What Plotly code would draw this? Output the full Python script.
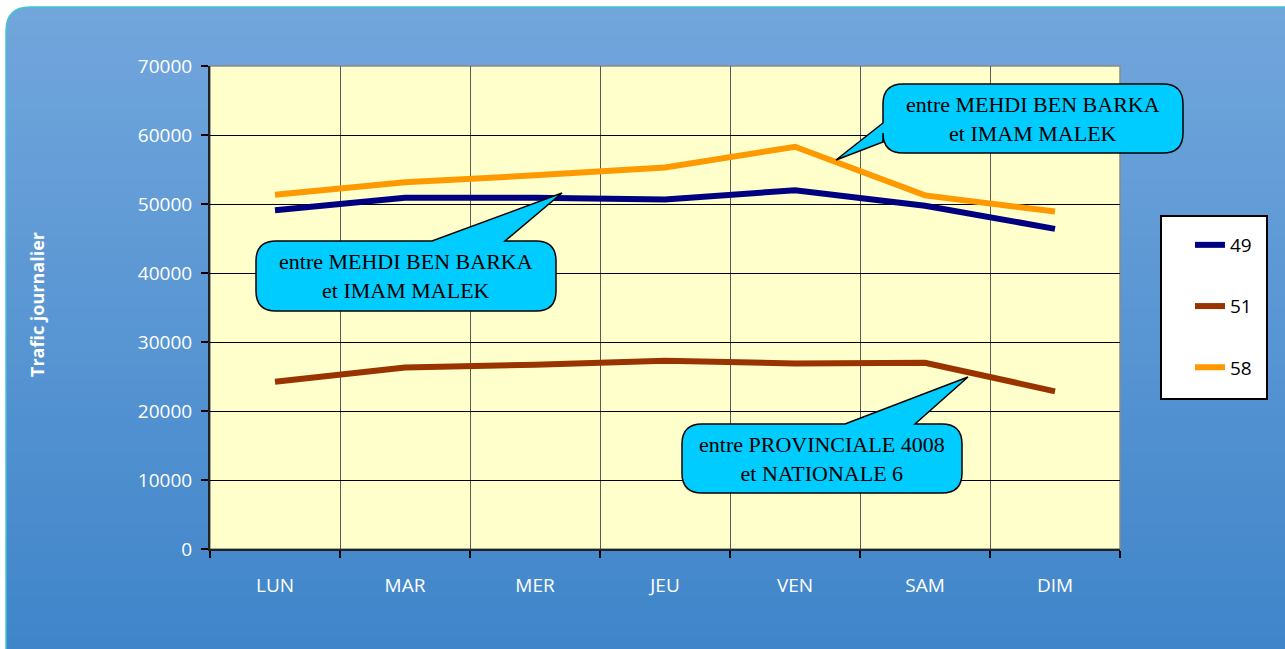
import plotly.graph_objects as go

# ---------------- data ----------------
days = ["LUN", "MAR", "MER", "JEU", "VEN", "SAM", "DIM"]
s49 = [49100, 50900, 50900, 50650, 52000, 49750, 46400]
s51 = [24250, 26300, 26700, 27300, 26900, 27000, 22850]
s58 = [51350, 53150, 54150, 55300, 58300, 51250, 48900]
series_names = ["49", "51", "58"]
series_colors = ["#000080", "#993300", "#FF9900"]
y_title = "Trafic journalier"
callout_texts = [
    "entre MEHDI BEN BARKA<br>et IMAM MALEK",
    "entre MEHDI BEN BARKA<br>et IMAM MALEK",
    "entre PROVINCIALE 4008<br>et NATIONALE 6",
]

# ---------------- geometry helpers ----------------
W, H = 1285, 649
L, R, T, B = 210, 1120, 66, 549


def PX(x):
    return (x - L) / (R - L)


def PY(y):
    return (B - y) / (B - T)


def pt(x, y):
    return f"{PX(x):.5f},{PY(y):.5f}"


def callout_path(x0, y0, x1, y1, r, side, b0, b1, tip):
    tx, ty = tip
    p = []
    if side == "top":
        p.append(f"M{pt(x0 + r, y0)}")
        p.append(f"L{pt(b0, y0)}")
        p.append(f"L{pt(tx, ty)}")
        p.append(f"L{pt(b1, y0)}")
        p.append(f"L{pt(x1 - r, y0)}")
    else:
        p.append(f"M{pt(x0 + r, y0)}")
        p.append(f"L{pt(x1 - r, y0)}")
    p.append(f"Q{pt(x1, y0)} {pt(x1, y0 + r)}")
    p.append(f"L{pt(x1, y1 - r)}")
    p.append(f"Q{pt(x1, y1)} {pt(x1 - r, y1)}")
    p.append(f"L{pt(x0 + r, y1)}")
    p.append(f"Q{pt(x0, y1)} {pt(x0, y1 - r)}")
    if side == "left":
        p.append(f"L{pt(x0, b1)}")
        p.append(f"L{pt(tx, ty)}")
        p.append(f"L{pt(x0, b0)}")
    p.append(f"L{pt(x0, y0 + r)}")
    p.append(f"Q{pt(x0, y0)} {pt(x0 + r, y0)}")
    p.append("Z")
    return " ".join(p)


shapes = []

# background card with vertical gradient
top_c = (113, 166, 220)
bot_c = (64, 133, 202)
cy0, cy1, cx0, cx1 = 7, 652, 6, 1290
n = 45
for i in range(n):
    ya = cy0 + (cy1 - cy0) * i / n
    yb = cy0 + (cy1 - cy0) * (i + 1) / n + 0.6
    t = i / (n - 1)
    c = tuple(round(top_c[k] + (bot_c[k] - top_c[k]) * t) for k in range(3))
    shapes.append(dict(type="rect", xref="paper", yref="paper", layer="below",
                       x0=PX(cx0), x1=PX(cx1), y0=PY(yb), y1=PY(ya),
                       fillcolor=f"rgb{c}", line=dict(width=0)))
rc = 24
# white mask for rounded corner
shapes.append(dict(type="path", xref="paper", yref="paper", layer="below",
                   path=f"M{pt(cx0 - 1, cy0 - 1)} L{pt(cx0 + rc, cy0 - 1)} L{pt(cx0 + rc, cy0)} "
                        f"Q{pt(cx0, cy0)} {pt(cx0, cy0 + rc)} L{pt(cx0 - 1, cy0 + rc)} Z",
                   fillcolor="white", line=dict(width=0)))
# teal border
shapes.append(dict(type="path", xref="paper", yref="paper", layer="below",
                   path=f"M{pt(cx0, 652)} L{pt(cx0, cy0 + rc)} Q{pt(cx0, cy0)} {pt(cx0 + rc, cy0)} L{pt(1290, cy0)}",
                   line=dict(color="#3FC6D0", width=1.5)))
# plot area background
shapes.append(dict(type="rect", xref="paper", yref="paper", layer="below",
                   x0=0, x1=1, y0=0, y1=1, fillcolor="#FFFFCC",
                   line=dict(color="#8A8A8A", width=1.5)))
# legend box
shapes.append(dict(type="rect", xref="paper", yref="paper", layer="below",
                   x0=PX(1161), x1=PX(1267), y0=PY(399), y1=PY(216),
                   fillcolor="white", line=dict(color="black", width=2)))

# callouts
callouts = [
    dict(box=(256, 241, 556, 311), side="top", b=(432, 505), tip=(562, 193), text=callout_texts[0]),
    dict(box=(883, 84, 1183, 153), side="left", b=(123, 142), tip=(836, 160), text=callout_texts[1]),
    dict(box=(682, 424, 962, 493), side="top", b=(845, 915), tip=(968, 377), text=callout_texts[2]),
]
annotations = []
for c in callouts:
    x0, y0, x1, y1 = c["box"]
    shapes.append(dict(type="path", xref="paper", yref="paper", layer="above",
                       path=callout_path(x0, y0, x1, y1, 20, c["side"], c["b"][0], c["b"][1], c["tip"]),
                       fillcolor="#00CCFF", line=dict(color="black", width=1.5)))
    annotations.append(dict(xref="paper", yref="paper", x=PX((x0 + x1) / 2), y=PY((y0 + y1) / 2),
                            text=c["text"], showarrow=False, xanchor="center", yanchor="middle",
                            font=dict(family="Liberation Serif", size=22, color="black")))

annotations.append(dict(xref="paper", yref="paper", x=PX(37), y=PY(305), text=f"<b>{y_title}</b>",
                        textangle=-90, showarrow=False, xanchor="center", yanchor="middle",
                        font=dict(family="Open Sans", size=18, color="white")))

fig = go.Figure()
for i, (name, vals) in enumerate(zip(series_names, [s49, s51, s58])):
    fig.add_trace(go.Scatter(x=days, y=vals, name=name, mode="lines",
                             line=dict(color=series_colors[i], width=6),
                             legendgroup=name))

fig.update_layout(
    width=W, height=H,
    margin=dict(l=L, r=W - R, t=T, b=H - B, pad=0),
    paper_bgcolor="white",
    plot_bgcolor="rgba(0,0,0,0)",
    shapes=shapes,
    annotations=annotations,
    showlegend=True,
    legend=dict(x=PX(1190), y=PY(226), xanchor="left", yanchor="top",
                bgcolor="rgba(0,0,0,0)", borderwidth=0,
                font=dict(family="Open Sans", size=19, color="black"),
                tracegroupgap=33.5, traceorder="grouped"),
    font=dict(family="Open Sans"),
)
fig.update_xaxes(type="category", categoryorder="array", categoryarray=days,
                 range=[-0.5, 6.5], tickson="boundaries", ticks="outside", ticklen=7,
                 tickcolor="black", tickwidth=1.5,
                 showgrid=True, gridcolor="#5A5A5A", gridwidth=1,
                 showline=True, linecolor="#222222", linewidth=2,
                 tickfont=dict(family="Open Sans", size=19, color="white"),
                 ticklabelstandoff=18, zeroline=False)
fig.update_yaxes(range=[0, 70000], dtick=10000, tick0=0, tickformat="d",
                 ticks="outside", ticklen=7, tickcolor="black", tickwidth=1.5,
                 showgrid=True, gridcolor="black", gridwidth=1,
                 showline=True, linecolor="#222222", linewidth=2,
                 tickfont=dict(family="Open Sans", size=19, color="white"),
                 ticklabelstandoff=5, zeroline=False)

fig.write_html("out.html", config={"displayModeBar": False},
               post_script="document.body.style.margin='0';document.body.style.overflow='hidden';")
